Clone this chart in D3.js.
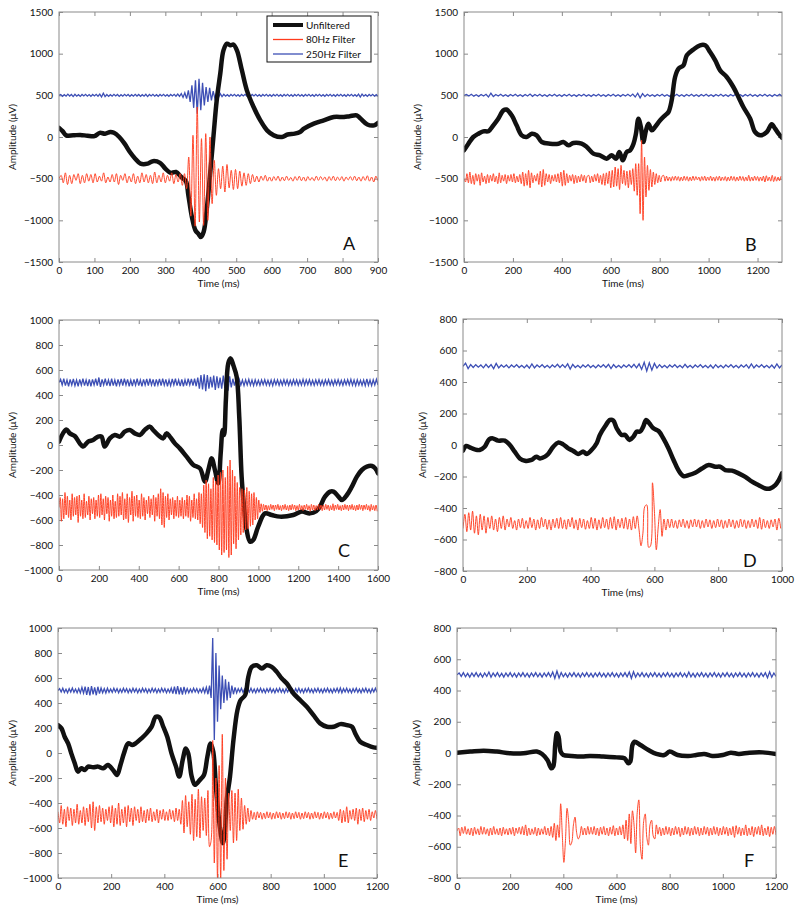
<!DOCTYPE html>
<html>
<head>
<meta charset="utf-8">
<script src="https://cdn.jsdelivr.net/npm/d3@7"></script>
<style>
  body { margin: 0; background: #fff; }
  svg text { font-family: Lato, "Open Sans", sans-serif; fill: #111; }
</style>
</head>
<body>
<script>
const blackColor = "#111111";
const redColor = "#ff3a1c";
const blueColor = "#3d4fb5";

// filtered traces are shown shifted: 80Hz at -500 uV, 250Hz at +500 uV
const offset80 = -500;
const offset250 = 500;

const legendLabels = ["Unfiltered", "80Hz Filter", "250Hz Filter"];

// ---------- panel A ----------
const xTicksA = [0, 100, 200, 300, 400, 500, 600, 700, 800, 900];
const yTicksA = [-1500, -1000, -500, 0, 500, 1000, 1500];
const unfilteredA = [[0,110],[10,70],[20,20],[40,20],[60,25],[80,15],[100,10],[115,50],[130,40],[145,60],[155,50],[170,0],[185,-80],[200,-180],[215,-260],[230,-320],[250,-320],[265,-290],[285,-310],[300,-380],[315,-430],[330,-420],[345,-480],[358,-530],[365,-700],[375,-960],[385,-1120],[393,-1160],[400,-1200],[408,-1140],[417,-860],[426,-460],[436,20],[445,440],[455,760],[464,1040],[474,1120],[484,1100],[492,1110],[502,1040],[516,800],[530,560],[549,360],[568,200],[587,80],[606,20],[629,0],[645,30],[665,40],[680,60],[691,100],[719,160],[747,200],[775,240],[804,240],[820,250],[840,260],[851,220],[870,150],[889,140],[900,170]];
const step80A = 6;
const filter80A = [0,40,-50,70,-70,40,-60,50,-20,60,-60,40,-50,60,-30,50,-50,
  60,-40,30,-30,70,-50,20,-40,50,-40,60,-70,40,-20,60,-50,30,
  -40,60,-60,30,-50,70,-40,50,-50,40,-60,80,-50,40,-40,70,-50,
  40,-30,70,-60,50,-40,60,-80,60,-120,
  260,-450,520,-570,860,-520,480,-560,540,-500,500,-300,220,-200,120,-120,150,
  -160,170,-110,100,-130,110,-120,90,-90,70,-80,60,-60,50,-40,30,-40,
  30,-20,40,-30,20,-30,25,-20,30,-30,20,-25,30,-20,15,-30,25,
  -20,30,-25,20,-30,25,-20,15,-25,30,-20,25,-15,20,-30,25,-20,
  30,-25,20,-20,25,-30,20,-15,25,-20,30,-25,20,-30,25,-20,35,
  -30,20,-40,30,-25];
const step250A = 5;
const filter250A = [0,10,-12,8,-10,14,-8,10,-15,12,-10,8,-13,10,-8,12,-10,9,-12,10,
  -8,12,-10,15,-20,25,-15,10,-12,8,-10,12,-8,10,-13,8,-10,12,-8,10,
  -12,8,-10,12,-9,10,-12,8,-10,12,-15,10,-8,12,-10,8,-12,10,-8,12,
  -10,8,-12,10,-8,12,-10,15,-12,20,-25,30,-40,60,-80,120,-150,180,-220,200,
  -180,150,-120,100,-80,90,-60,50,-40,30,-25,20,-15,12,-10,8,-12,10,-8,12,
  -10,8,-12,10,-8,12,-10,8,-12,10,-8,12,-10,8,-12,10,-8,12,-10,8,
  -12,10,-8,12,-10,8,-12,10,-8,12,-10,8,-12,10,-8,12,-10,8,-12,10,
  -8,12,-10,8,-12,10,-8,12,-10,8,-12,10,-8,12,-10,8,-12,10,-8,12,
  -10,8,-12,10,-8,12,-10,8,-12,15,-20,15,-10,8,-12,10,-8,12,-10,8,
  -10];

// ---------- panel B ----------
const xTicksB = [0, 200, 400, 600, 800, 1000, 1200];
const yTicksB = [-1500, -1000, -500, 0, 500, 1000, 1500];
const unfilteredB = [[0,-160],[18,-80],[38,0],[59,40],[79,68],[100,70],[120,140],[140,220],[161,320],[174,330],[195,260],[215,140],[236,20],[256,0],[277,40],[297,20],[318,-60],[352,-80],[386,-80],[406,-60],[427,-100],[447,-72],[481,-80],[502,-120],[529,-200],[556,-220],[583,-260],[604,-220],[622,-260],[635,-180],[649,-280],[665,-180],[679,-160],[693,-80],[703,40],[713,220],[723,120],[733,-60],[744,80],[754,160],[768,80],[781,120],[802,200],[822,260],[836,300],[849,440],[863,720],[877,820],[897,860],[911,980],[938,1050],[965,1100],[986,1100],[1006,1020],[1027,920],[1047,800],[1074,720],[1101,600],[1122,480],[1142,360],[1170,220],[1190,60],[1211,20],[1238,60],[1258,152],[1272,100],[1286,40],[1300,-8]];
const step80B = 6;
const filter80B = [0,-40,60,-50,80,-60,40,-70,60,-30,50,-80,70,-40,30,-60,50,
  -50,40,-30,60,-40,30,-60,70,-50,40,-30,50,-60,40,-30,50,-40,
  60,-50,30,-40,50,-60,80,-90,60,-80,100,-110,70,-50,40,-30,60,
  -70,90,-100,110,-80,60,-40,50,-60,40,-30,50,-40,60,-50,80,-90,
  100,-80,60,-50,40,-30,50,-60,40,-50,30,-40,50,-30,40,-50,30,
  40,-50,30,-40,50,-30,60,-50,40,-70,60,-80,70,-60,90,-110,100,
  -100,140,-90,120,-130,160,-60,100,-80,90,-110,100,-70,120,-150,180,-200,
  180,-420,460,-500,260,-220,160,-140,110,-100,80,-70,60,-50,40,-40,30,
  40,-30,30,-25,20,-30,25,-20,30,-20,25,-30,20,-25,30,-20,25,
  -30,20,-25,30,-20,25,-15,20,-30,25,-20,30,-25,20,-20,30,-25,
  20,-30,25,-20,30,-25,20,-20,25,-30,20,-25,30,-20,25,-30,20,
  -25,30,-20,25,-30,20,-25,40,-30,20,-25,30,-20,25,-30,20,-25,
  30,-40,35,-25,20,-30,40,-35,25,-30,20,-25,30];
const step250B = 10;
const filter250B = [0,10,-8,12,-10,8,-12,10,-8,12,-20,25,-15,10,-8,12,-10,8,-12,10,
  -8,12,-10,8,-12,10,-8,15,-12,10,-8,12,-10,8,-12,10,-8,12,-10,8,
  -12,10,-8,12,-10,8,-12,10,-8,12,-10,8,-12,10,-8,12,-10,8,-12,10,
  -8,12,-10,8,-12,10,-8,12,-10,15,-20,25,-30,20,-15,12,-10,8,-12,10,
  -8,12,-10,8,-12,10,-8,12,-10,8,-12,10,-8,12,-10,8,-12,10,-8,12,
  -10,8,-12,10,-8,12,-10,8,-12,10,-8,12,-10,8,-12,10,-8,12,-10,8,
  -12,10,-8,12,-10,8,-12,10,-8,12,-10];

// ---------- panel C ----------
const xTicksC = [0, 200, 400, 600, 800, 1000, 1200, 1400, 1600];
const yTicksC = [-1000, -800, -600, -400, -200, 0, 200, 400, 600, 800, 1000];
const unfilteredC = [[0,27],[20,93],[37,125],[54,93],[79,72],[104,13],[121,-13],[146,27],[171,40],[196,67],[213,67],[229,-13],[255,53],[280,80],[305,67],[330,107],[355,120],[380,93],[405,80],[430,120],[456,147],[472,120],[497,80],[523,53],[539,93],[556,67],[581,13],[606,-27],[640,-93],[674,-160],[707,-187],[732,-293],[749,-200],[766,-107],[782,-200],[799,-307],[811,-67],[821,120],[828,80],[837,360],[849,653],[861,693],[874,640],[891,547],[904,227],[916,-253],[928,-493],[941,-680],[958,-773],[974,-760],[999,-653],[1033,-547],[1067,-560],[1108,-573],[1175,-560],[1217,-533],[1259,-547],[1290,-530],[1309,-493],[1334,-413],[1360,-373],[1377,-373],[1402,-413],[1419,-440],[1444,-400],[1469,-333],[1494,-253],[1519,-200],[1544,-173],[1570,-168],[1586,-187],[1600,-227]];
const step80C = 6;
const filter80C = [0,80,-110,70,-90,120,-60,90,-80,60,-100,110,-70,80,-60,90,-120,
  100,-70,60,-90,110,-80,50,-60,90,-100,70,-50,80,-90,60,-70,100,
  -80,110,-60,70,-100,90,-50,80,-110,60,-70,100,-90,50,-80,110,-70,
  90,-60,120,-100,70,-90,110,-120,80,-60,130,-110,90,-70,100,-80,60,
  -90,110,-70,80,-100,60,-50,90,-80,70,-60,100,-110,80,-70,110,-90,
  150,-140,120,-160,90,-80,110,-100,70,-60,80,-90,60,-70,90,-80,60,
  -70,80,-90,60,-70,100,-80,90,-110,60,-80,110,-90,70,-100,120,-130,
  110,-160,180,-200,220,-250,190,-230,150,-260,240,-280,210,-300,260,-340,280,
  -380,300,-360,240,-340,330,-400,380,-380,300,-290,250,-330,200,-260,160,-220,
  150,-200,140,-180,160,-170,130,-150,110,-140,120,-100,80,-90,60,-40,30,
  -30,25,-20,20,-25,15,-20,25,-15,20,-25,20,-15,25,-20,15,-25,
  20,-15,25,-20,15,-25,20,-20,25,-15,20,-25,15,-20,25,-20,15,
  -25,20,-15,25,-20,15,-30,25,-20,20,-25,15,-20,25,-15,20,-25,
  20,-20,25,-15,20,-25,15,-20,30,-25,20,-15,25,-20,15,-25,20,
  -20,25,-15,20,-25,20,-15,25,-20,15,-25,20,-20,25,-15,20,-25,
  20,-15,25,-20,15,-30,25,-20,15,-25,20,-30];
const step250C = 8;
const filter250C = [0,25,-20,30,-25,20,-30,25,-20,28,-25,20,-30,25,-22,30,-25,20,-28,25,
  -30,25,-20,30,-25,40,-35,25,-20,30,-25,20,-28,30,-25,20,-30,25,-20,28,
  -25,30,-20,25,-30,20,-28,25,-22,30,-25,20,-30,25,-20,28,-25,30,-20,25,
  -30,25,-20,28,-25,30,-22,25,-30,20,-25,28,-20,30,-25,20,-28,25,-30,22,
  -25,30,-20,28,-25,30,-30,40,-50,60,-55,65,-70,60,-50,45,-40,55,-60,50,
  -45,40,-50,55,-45,60,-65,50,-40,30,-25,28,-20,25,-22,20,-25,22,-20,25,
  -22,20,-25,22,-20,18,-22,20,-18,22,-20,18,-22,20,-25,22,-18,20,-22,18,
  -20,22,-18,20,-22,18,-20,22,-18,20,-22,18,-20,25,-22,20,-18,22,-20,18,
  -22,20,-18,22,-20,18,-22,20,-18,22,-20,18,-22,20,-18,22,-20,18,-22,20,
  -18,22,-20,25,-22,20,-25,22,-20,18,-22,20,-25,28,-22,20,-25,22,-20,25,
  -20];

// ---------- panel D ----------
const xTicksD = [0, 200, 400, 600, 800, 1000];
const yTicksD = [-800, -600, -400, -200, 0, 200, 400, 600, 800];
const unfilteredD = [[0,-36],[10,-6],[21,-15],[37,-28],[52,-32],[68,-11],[82,36],[94,42],[110,28],[131,28],[147,0],[162,-42],[178,-85],[194,-100],[215,-95],[230,-74],[241,-85],[257,-74],[267,-57],[283,-11],[298,15],[314,4],[330,-21],[346,-38],[361,-57],[377,-42],[387,-57],[403,-32],[419,11],[429,64],[445,117],[461,159],[471,155],[482,106],[497,64],[508,64],[522,32],[534,53],[545,85],[555,85],[565,117],[574,159],[584,138],[597,106],[613,89],[628,42],[644,-21],[660,-95],[675,-159],[691,-197],[707,-191],[728,-176],[749,-149],[770,-127],[791,-138],[806,-138],[822,-159],[843,-163],[864,-180],[885,-202],[906,-233],[927,-255],[948,-276],[963,-276],[979,-255],[990,-223],[1000,-180]];
const step80D = 6;
const filter80D = [-30,60,-50,70,-40,80,-60,50,-70,60,-40,50,-60,40,-30,50,-40,
  30,-50,40,-30,50,-40,30,-20,40,-30,20,-40,30,-25,35,-30,20,
  -30,40,-25,30,-40,25,-30,40,-20,30,-35,25,-40,30,-25,35,-30,
  40,-30,25,-35,30,-20,40,-30,25,-40,35,-25,30,-35,20,-30,40,
  -30,35,-40,25,-30,40,-25,30,-35,40,-30,45,-40,30,-25,35,-30,
  40,-35,30,-40,45,-30,50,
  -40,-140,-60,110,120,-150,-140,260,80,-165,-20,90,-80,30,-40,30,-25,
  30,-25,20,-30,25,-20,30,-25,20,-30,25,-20,30,-20,25,-30,20,
  -25,30,-20,25,-30,20,-25,30,-20,25,-30,20,-25,30,-20,25,-30,
  20,-25,30,-20,25,-30,20,-25,30,-20,25,-30,40,-35,30,-25,20,
  -30,25,-20,30,-40,35,-30];
const step250D = 8;
const filter250D = [0,20,-15,10,-8,10,-6,8,-10,12,-8,10,-15,18,-10,8,-6,8,-10,8,
  -6,10,-8,6,-10,8,-12,15,-10,8,-6,10,-8,6,-10,8,-6,12,-8,10,
  -8,15,-18,12,-8,6,-10,8,-6,10,-8,6,-10,8,-6,10,-8,12,-15,10,
  -8,6,-10,8,-6,10,-8,12,-10,15,-20,25,-30,22,-25,18,-12,10,-8,6,
  -10,8,-6,10,-8,6,-10,12,-8,6,-10,8,-6,10,-8,6,-10,8,-12,10,
  -8,6,-10,8,-6,10,-8,6,-10,8,-6,10,-12,15,-10,8,-6,10,-8,6,
  -10,8,-12,15,-10,8];

// ---------- panel E ----------
const xTicksE = [0, 200, 400, 600, 800, 1000, 1200];
const yTicksE = [-1000, -800, -600, -400, -200, 0, 200, 400, 600, 800, 1000];
const unfilteredE = [[0,223],[13,197],[25,130],[38,77],[50,-3],[63,-82],[75,-149],[88,-122],[101,-136],[113,-109],[132,-114],[151,-109],[170,-122],[188,-96],[207,-136],[222,-176],[235,-96],[248,-3],[264,77],[280,64],[295,82],[314,117],[333,157],[352,210],[368,290],[381,285],[396,210],[411,130],[427,-3],[444,-109],[456,-189],[469,-56],[481,37],[490,-3],[503,-189],[515,-255],[534,-215],[549,-176],[562,-29],[574,77],[584,11],[594,-268],[603,-481],[612,-641],[620,-721],[627,-641],[635,-375],[647,-189],[660,104],[675,343],[687,423],[704,463],[716,609],[729,689],[748,702],[767,676],[785,702],[804,689],[823,649],[842,596],[861,556],[886,476],[911,423],[936,370],[961,303],[986,237],[1012,210],[1037,210],[1062,231],[1087,223],[1106,210],[1118,157],[1137,90],[1162,64],[1187,45],[1200,43]];
const step80E = 6;
const filter80E = [30,-60,80,-70,50,-90,70,-40,60,-80,50,-60,90,-70,40,-60,70,
  -80,60,-50,90,-100,110,-120,70,-60,80,-50,60,-70,50,-40,70,-60,
  80,-90,60,-70,100,-80,50,-60,70,-90,80,-50,60,-80,70,-40,50,
  -60,70,-50,40,-60,50,-40,60,-50,30,-40,50,-60,40,-30,50,-40,
  30,-40,50,-30,40,-50,60,-40,50,-70,120,-140,160,-90,110,-150,170,
  -200,130,-170,210,-180,150,-120,140,-160,200,-250,-200,600,-380,300,-500,400,
  -520,650,-440,300,-350,180,-120,200,-220,180,-200,210,-120,140,-110,80,-70,
  60,-50,40,-30,25,-35,30,-20,25,-30,20,-25,30,-20,25,-30,20,
  -25,30,-20,25,-30,20,-25,30,-20,25,-30,20,-25,30,-20,25,-30,
  20,-25,30,-20,25,-30,20,-25,30,-20,25,-30,20,-25,30,-20,25,
  -30,20,-25,30,-20,25,-40,50,-60,40,-50,70,-60,40,-30,50,-40,
  60,-70,50,-40,60,-50,40,-30,50,-40,30,-20,40,-30];
const step250E = 6;
const filter250E = [0,15,-12,18,-15,10,-18,15,-12,20,-15,12,-18,15,-20,25,-22,
  30,-35,28,-40,35,-30,25,-38,30,-25,20,-18,15,-20,18,-15,12,
  -15,18,-12,15,-18,12,-15,18,-12,15,-18,12,-15,18,-12,15,-18,
  12,-15,18,-12,15,-18,12,-15,18,-12,15,-18,12,-15,18,-12,15,
  -18,12,-15,20,-25,30,-28,35,-30,25,-32,28,-20,15,-18,12,-15,
  18,-12,15,-18,12,-15,20,-18,25,-30,40,-60,420,-396,300,-250,200,
  -150,120,-100,90,-80,70,-60,40,-30,25,-20,15,-12,18,-15,12,-18,
  15,-12,18,-15,12,-18,15,-12,18,-15,12,-18,15,-12,18,-15,12,
  -18,15,-12,18,-15,12,-18,15,-12,18,-15,12,-18,15,-12,18,-15,
  12,-18,15,-12,18,-15,12,-18,15,-12,18,-15,12,-18,15,-12,18,
  -15,12,-18,15,-12,18,-15,20,-18,15,-12,18,-15,12,-18,15,-12,
  18,-15,12,-18,15,-12,18,-15,12,-18,15,-12,18,-15];

// ---------- panel F ----------
const xTicksF = [0, 200, 400, 600, 800, 1000, 1200];
const yTicksF = [-800, -600, -400, -200, 0, 200, 400, 600, 800];
const unfilteredF = [[0,2],[50,9],[100,15],[150,9],[200,-2],[250,-2],[300,9],[320,-6],[340,-45],[355,-98],[362,-87],[370,62],[376,126],[382,104],[390,9],[400,-13],[430,-19],[470,-23],[500,-19],[550,-23],[600,-28],[630,-34],[645,-66],[652,-55],[660,51],[668,72],[690,51],[720,19],[750,-6],[780,-13],[800,9],[830,-13],[870,-19],[900,-13],[930,-6],[960,-19],[1000,-13],[1030,2],[1060,-6],[1100,2],[1150,4],[1200,-6]];
const step80F = 6;
const filter80F = [0,20,-30,25,-15,30,-20,15,-25,20,-30,25,-20,15,-25,30,-20,
  25,-20,15,-30,20,-25,30,-20,15,-25,20,-30,25,-20,15,-25,20,
  -20,25,-30,20,-15,25,-20,30,-25,40,-30,20,-25,15,-20,25,-30,
  20,-25,15,-20,30,-25,20,-30,30,-40,50,-60,40,-40,175,-20,-200,
  -60,146,60,-90,-70,40,90,-10,-50,-30,30,-25,20,-25,30,-20,25,
  -20,30,-25,20,-30,25,-20,30,-25,20,-30,25,-20,35,-30,20,-25,
  30,-25,40,-50,70,-60,110,-80,130,40,-140,120,200,-100,-180,60,110,
  -40,-90,40,70,-30,-50,40,-20,25,-30,20,-25,30,-20,25,-30,20,
  -25,30,-20,25,-35,20,-25,30,-20,25,-30,20,-25,30,-20,25,-30,
  20,-25,30,-20,25,-30,20,-25,30,-20,25,-30,20,-25,30,-20,25,
  -30,20,-25,30,-40,35,-20,25,-30,20,-25,40,-30,20,-25,30,-35,
  25,-20,30,-25,40,-30,20,-25,30,-35,25,-20,30,-25];
const step250F = 8;
const filter250F = [0,12,-10,14,-12,10,-14,12,-10,14,-12,10,-14,12,-10,18,-15,12,-10,14,
  -12,10,-14,12,-10,14,-12,10,-14,12,-10,14,-12,10,-14,12,-10,14,-12,10,
  -14,12,-10,14,-12,18,-22,25,-20,15,-12,10,-14,12,-10,14,-12,10,-14,12,
  -10,14,-12,10,-14,12,-10,14,-12,10,-14,12,-10,14,-12,10,-14,12,-10,14,
  -12,18,-22,20,-15,12,-10,14,-12,10,-14,12,-10,14,-12,10,-14,12,-10,14,
  -12,10,-14,12,-10,14,-12,10,-14,18,-12,10,-14,12,-10,14,-12,10,-14,12,
  -10,14,-12,10,-14,12,-10,14,-12,10,-14,12,-10,14,-12,10,-14,12,-10,14,
  -12,10,-14,12,-10,14,-18,20,-15,12,-10];

// layout of the six panels (pixels)
var panels = [
  { id: "A", left: 59, right: 378, top: 12, bottom: 262, xDomain: [0, 900], yDomain: [-1500, 1500],
    xTicks: xTicksA, yTicks: yTicksA, raw: unfilteredA, f80: filter80A, s80: step80A, f250: filter250A, s250: step250A,
    letterX: 343, letterY: 250, ylabelX: 12.5, legend: true },
  { id: "B", left: 464, right: 782, top: 12, bottom: 262, xDomain: [0, 1300], yDomain: [-1500, 1500],
    xTicks: xTicksB, yTicks: yTicksB, raw: unfilteredB, f80: filter80B, s80: step80B, f250: filter250B, s250: step250B,
    letterX: 745, letterY: 251, ylabelX: 417 },
  { id: "C", left: 59, right: 378, top: 320, bottom: 570, xDomain: [0, 1600], yDomain: [-1000, 1000],
    xTicks: xTicksC, yTicks: yTicksC, raw: unfilteredC, f80: filter80C, s80: step80C, f250: filter250C, s250: step250C,
    letterX: 338, letterY: 557, ylabelX: 12.5 },
  { id: "D", left: 463, right: 782, top: 319, bottom: 571, xDomain: [0, 1000], yDomain: [-800, 800],
    xTicks: xTicksD, yTicks: yTicksD, raw: unfilteredD, f80: filter80D, s80: step80D, f250: filter250D, s250: step250D,
    letterX: 743, letterY: 567, ylabelX: 422 },
  { id: "E", left: 58, right: 377, top: 628, bottom: 878, xDomain: [0, 1200], yDomain: [-1000, 1000],
    xTicks: xTicksE, yTicks: yTicksE, raw: unfilteredE, f80: filter80E, s80: step80E, f250: filter250E, s250: step250E,
    letterX: 338, letterY: 867, ylabelX: 12.5 },
  { id: "F", left: 457, right: 776, top: 628, bottom: 878, xDomain: [0, 1200], yDomain: [-800, 800],
    xTicks: xTicksF, yTicks: yTicksF, raw: unfilteredF, f80: filter80F, s80: step80F, f250: filter250F, s250: step250F,
    letterX: 744, letterY: 867, ylabelX: 416 }
];

var svg = d3
  .select("body")
  .append("svg")
  .attr("width", 800)
  .attr("height", 916);

var defs = svg.append("defs");
var plainNumber = d3.format("d");

panels.forEach(function (p) {
  var x = d3.scaleLinear().domain(p.xDomain).range([p.left, p.right]);
  var y = d3.scaleLinear().domain(p.yDomain).range([p.bottom, p.top]);

  defs
    .append("clipPath")
    .attr("id", "clip" + p.id)
    .append("rect")
    .attr("x", p.left)
    .attr("y", p.top)
    .attr("width", p.right - p.left)
    .attr("height", p.bottom - p.top);

  var g = svg.append("g").attr("class", "panel");

  // ticks on all four sides, pointing inward
  var axes = [
    { ax: d3.axisBottom(x).tickValues(p.xTicks).tickFormat(plainNumber).tickPadding(5), t: `translate(0,${p.bottom})` },
    { ax: d3.axisTop(x).tickValues(p.xTicks).tickFormat(""), t: `translate(0,${p.top})` },
    { ax: d3.axisLeft(y).tickValues(p.yTicks).tickFormat(plainNumber).tickPadding(6), t: `translate(${p.left},0)` },
    { ax: d3.axisRight(y).tickValues(p.yTicks).tickFormat(""), t: `translate(${p.right},0)` }
  ];
  axes.forEach(function (a) {
    var ag = g
      .append("g")
      .attr("transform", a.t)
      .call(a.ax.tickSizeInner(-4).tickSizeOuter(0));
    ag.select(".domain").remove();
    ag.selectAll(".tick line").attr("stroke", "#8a8a8a");
    ag.selectAll(".tick text").style("font-size", "10px").attr("fill", "#111");
  });

  var lineRaw = d3
    .line()
    .x((d) => x(d[0]))
    .y((d) => y(d[1]))
    .curve(d3.curveCatmullRom.alpha(0.5));
  var line80 = d3
    .line()
    .x((d, i) => x(i * p.s80))
    .y((d) => y(d + offset80))
    .curve(d3.curveCatmullRom.alpha(0.5));
  var line250 = d3
    .line()
    .x((d, i) => x(i * p.s250))
    .y((d) => y(d + offset250));

  var plot = g.append("g").attr("clip-path", `url(#clip${p.id})`);

  plot
    .append("path")
    .datum(p.f250)
    .attr("d", line250)
    .attr("fill", "none")
    .attr("stroke", blueColor)
    .attr("stroke-width", 1.3);

  plot
    .append("path")
    .datum(p.raw)
    .attr("d", lineRaw)
    .attr("fill", "none")
    .attr("stroke", blackColor)
    .attr("stroke-width", 4.5)
    .attr("stroke-linejoin", "round")
    .attr("stroke-linecap", "round");

  plot
    .append("path")
    .datum(p.f80)
    .attr("d", line80)
    .attr("fill", "none")
    .attr("stroke", redColor)
    .attr("stroke-width", 1)
    .attr("stroke-opacity", 0.92);

  // frame
  g.append("rect")
    .attr("x", p.left)
    .attr("y", p.top)
    .attr("width", p.right - p.left)
    .attr("height", p.bottom - p.top)
    .attr("fill", "none")
    .attr("stroke", "#8a8a8a")
    .attr("stroke-width", 1);

  g.append("text")
    .text("Time (ms)")
    .attr("x", (p.left + p.right) / 2)
    .attr("y", p.bottom + 25)
    .attr("text-anchor", "middle")
    .style("font-size", "10px");

  g.append("text")
    .text("Amplitude (μV)")
    .attr("transform", `translate(${p.ylabelX},${(p.top + p.bottom) / 2}) rotate(-90)`)
    .attr("dy", "0.35em")
    .attr("text-anchor", "middle")
    .style("font-size", "10px");

  g.append("text")
    .text(p.id)
    .attr("x", p.letterX)
    .attr("y", p.letterY)
    .style("font-size", "18px");

  if (p.legend) {
    var lg = g.append("g");
    lg.append("rect")
      .attr("x", 267)
      .attr("y", 16)
      .attr("width", 104)
      .attr("height", 46)
      .attr("fill", "#fff")
      .attr("stroke", "#111")
      .attr("stroke-width", 1);
    var legendStyles = [
      { c: blackColor, w: 4 },
      { c: redColor, w: 1.3 },
      { c: blueColor, w: 1.3 }
    ];
    legendLabels.forEach(function (lab, i) {
      var ly = 25 + i * 14.5;
      lg.append("line")
        .attr("x1", 273)
        .attr("x2", 303)
        .attr("y1", ly)
        .attr("y2", ly)
        .attr("stroke", legendStyles[i].c)
        .attr("stroke-width", legendStyles[i].w);
      lg.append("text")
        .text(lab)
        .attr("x", 306)
        .attr("y", ly)
        .attr("dy", "0.35em")
        .style("font-size", "10px");
    });
  }
});
</script>
</body>
</html>
